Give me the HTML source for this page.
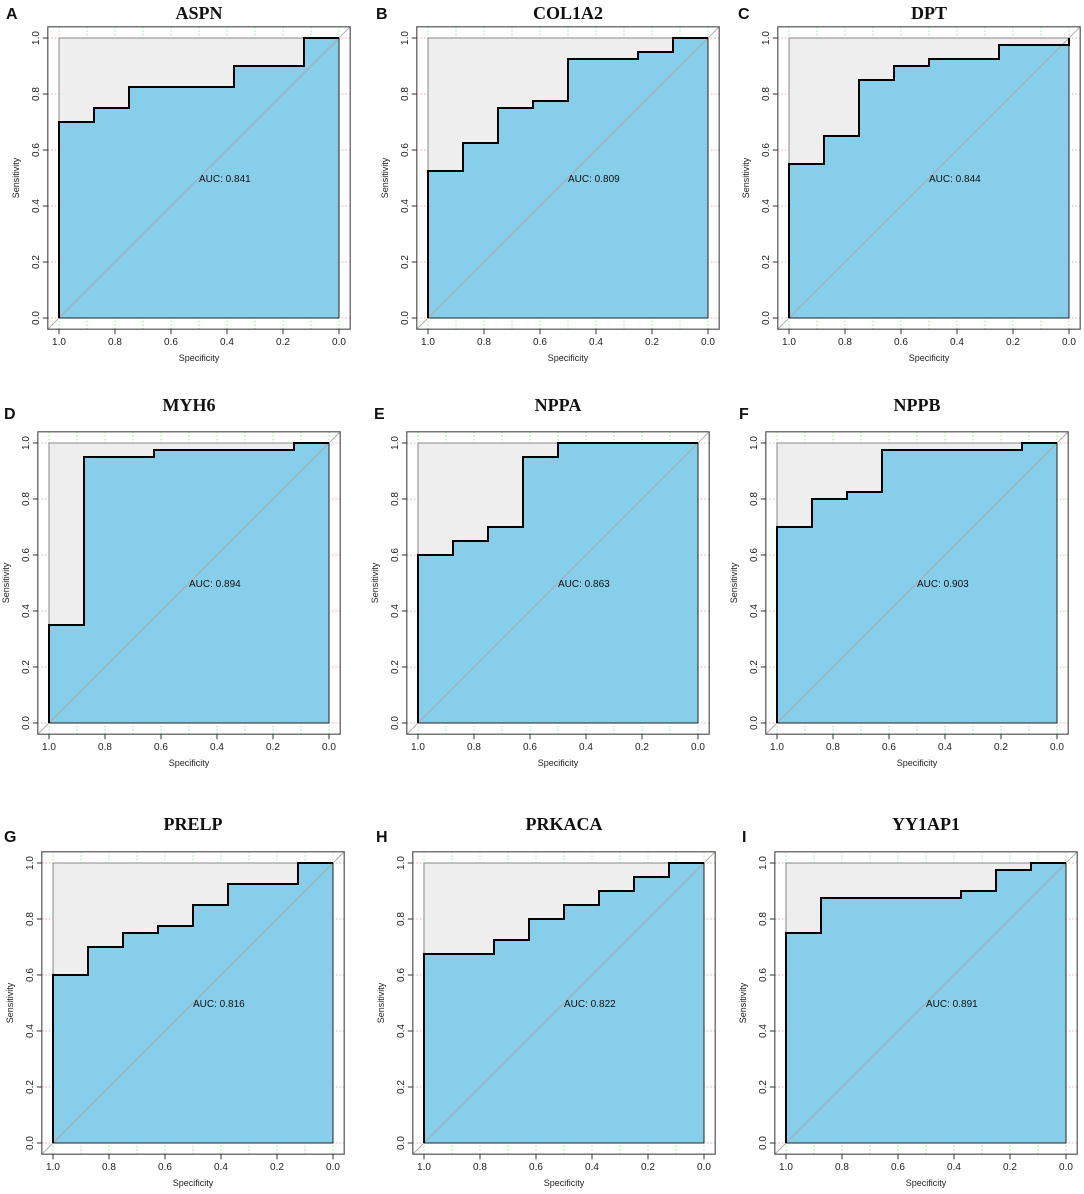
<!DOCTYPE html>
<html><head><meta charset="utf-8"><style>
body{margin:0;background:#fff;}
svg{display:block;}
</style></head><body>
<svg id="fig" width="1084" height="1194" xmlns="http://www.w3.org/2000/svg"></svg>
<script>
const panelNames = ["ASPN","COL1A2","DPT","MYH6","NPPA","NPPB","PRELP","PRKACA","YY1AP1"];
const panelLetters = ["A","B","C","D","E","F","G","H","I"];
const aucValues = ["0.841","0.809","0.844","0.894","0.863","0.903","0.816","0.822","0.891"];
const specA=[1,0.875,0.75,0.375,0.125], sensA=[0.7,0.75,0.825,0.9,1];
const specB=[1,0.875,0.75,0.625,0.5,0.25,0.125], sensB=[0.525,0.625,0.75,0.775,0.925,0.95,1];
const specC=[1,0.875,0.75,0.625,0.5,0.25,0], sensC=[0.55,0.65,0.85,0.9,0.925,0.975,1];
const specD=[1,0.875,0.625,0.125], sensD=[0.35,0.95,0.975,1];
const specE=[1,0.875,0.75,0.625,0.5], sensE=[0.6,0.65,0.7,0.95,1];
const specF=[1,0.875,0.75,0.625,0.125], sensF=[0.7,0.8,0.825,0.975,1];
const specG=[1,0.875,0.75,0.625,0.5,0.375,0.125], sensG=[0.6,0.7,0.75,0.775,0.85,0.925,1];
const specH=[1,0.75,0.625,0.5,0.375,0.25,0.125], sensH=[0.675,0.725,0.8,0.85,0.9,0.95,1];
const specI=[1,0.875,0.375,0.25,0.125], sensI=[0.75,0.875,0.9,0.975,1];
const xTicks=["1.0","0.8","0.6","0.4","0.2","0.0"];
const yTicks=["0.0","0.2","0.4","0.6","0.8","1.0"];
const specs=[specA,specB,specC,specD,specE,specF,specG,specH,specI];
const senss=[sensA,sensB,sensC,sensD,sensE,sensF,sensG,sensH,sensI];
// layout (pixels)
const lefts=[59,428,789,49,418,777,53,424,786];
const tops=[38,38,38,443,443,443,863,863,863];
const letterX=[6,376,738,4,374,739,4,376,742];
const letterY=[19,19,19,419,419,419,842,842,842];
const titleY=[19,19,19,411,411,411,830,830,830];
const W=280,H=280;
const NS="http://www.w3.org/2000/svg";
const svg=document.getElementById('fig');
function mk(tag,attrs,parent){const e=document.createElementNS(NS,tag);for(const k in attrs)e.setAttribute(k,attrs[k]);(parent||svg).appendChild(e);return e;}
for(let p=0;p<9;p++){
  const L=lefts[p],T=tops[p];
  const sx=v=>L+(1-v)*W, sy=v=>T+(1-v)*H;
  const g=mk('g',{});
  
  
  const pad=0.04*W;
  // grid
  for(let k=0;k<=10;k++){const x=sx(k/10);const ln=mk('line',{x1:x,x2:x,y1:T-pad,y2:T+H+pad,stroke:'#7fe07f','stroke-width':0.8,'stroke-dasharray':'1.5,2'},g);
    }
  for(let k=0;k<=5;k++){const y=sy(k/5);const ln=mk('line',{x1:L-pad,x2:L+W+pad,y1:y,y2:y,stroke:'#f08080','stroke-width':0.8,'stroke-dasharray':'1.5,2'},g);
    }
  // gray square
  const sq=mk('rect',{x:sx(1),y:sy(1),width:W,height:H,fill:'#eeeeee',stroke:'#888','stroke-width':1},g);
  
  // curve
  const sp=specs[p],se=senss[p];
  let pts=[[1,0]];
  for(let i=0;i<sp.length;i++){pts.push([sp[i],se[i]]);const nx=i+1<sp.length?sp[i+1]:0;pts.push([nx,se[i]]);}
  const ptStr=pts.map(q=>sx(q[0])+','+sy(q[1])).join(' ');
  const poly=mk('polygon',{points:ptStr+' '+sx(0)+','+sy(0),fill:'#87ceeb',stroke:'none'},g);
  
  // diagonal
  const dg=mk('line',{x1:L-pad,y1:T+H+pad,x2:L+W+pad,y2:T-pad,stroke:'#aaaaaa','stroke-width':1},g);
  
  const bl=mk('line',{x1:sx(0),y1:sy(0),x2:sx(1),y2:sy(0),stroke:'#222','stroke-width':1},g);
  
  const rl=mk('line',{x1:sx(0),y1:sy(0),x2:sx(0),y2:sy(1),stroke:'#222','stroke-width':1},g);
  
  const cv=mk('polyline',{points:ptStr,fill:'none',stroke:'#000','stroke-width':2},g);
  
  // box
  const bx=mk('rect',{x:L-pad,y:T-pad,width:W+2*pad,height:H+2*pad,fill:'none',stroke:'#555','stroke-width':1.2},g);
  
  // ticks
  for(let k=0;k<6;k++){
    const xv=1-k*0.2,x=sx(xv);
    mk('line',{x1:x,x2:x,y1:T+H+pad,y2:T+H+pad+5,stroke:'#333','stroke-width':1},g);
    const t=mk('text',{x:x,y:T+H+pad+16,'text-anchor':'middle','font-size':10,'font-family':'Liberation Sans, sans-serif',fill:'#222'},g);
    t.textContent=xTicks[k];
    const yv=k*0.2,y=sy(yv);
    mk('line',{x1:L-pad-5,x2:L-pad,y1:y,y2:y,stroke:'#333','stroke-width':1},g);
    const ty=mk('text',{x:L-pad-9,y:y,'text-anchor':'middle','font-size':10,'font-family':'Liberation Sans, sans-serif',fill:'#222',transform:'rotate(-90 '+(L-pad-9)+' '+y+')'},g);
    ty.textContent=yTicks[k];
  }
  const xl=mk('text',{x:L+W/2,y:T+H+pad+32,'text-anchor':'middle','font-size':9,'font-family':'Liberation Sans, sans-serif',fill:'#222'},g);
  xl.textContent='Specificity';
  const yx=L-pad-29,yy=T+H/2;
  const yl=mk('text',{x:yx,y:yy,'text-anchor':'middle','font-size':9,'font-family':'Liberation Sans, sans-serif',fill:'#222',transform:'rotate(-90 '+yx+' '+yy+')'},g);
  yl.textContent='Sensitivity';
  const at=mk('text',{x:sx(0.5),y:sy(0.5)+4,'font-size':10,'font-family':'Liberation Sans, sans-serif',fill:'#111'},g);
  at.textContent='AUC: '+aucValues[p];
  const tt=mk('text',{x:L+W/2,y:titleY[p],'text-anchor':'middle','font-size':18,'font-weight':'bold','font-family':'Liberation Serif, serif',fill:'#111'},g);
  tt.textContent=panelNames[p];
  const lt=mk('text',{x:letterX[p],y:letterY[p],'font-size':16,'font-weight':'bold','font-family':'Liberation Sans, sans-serif',fill:'#111'},g);
  lt.textContent=panelLetters[p];
}
</script>
</body></html>
